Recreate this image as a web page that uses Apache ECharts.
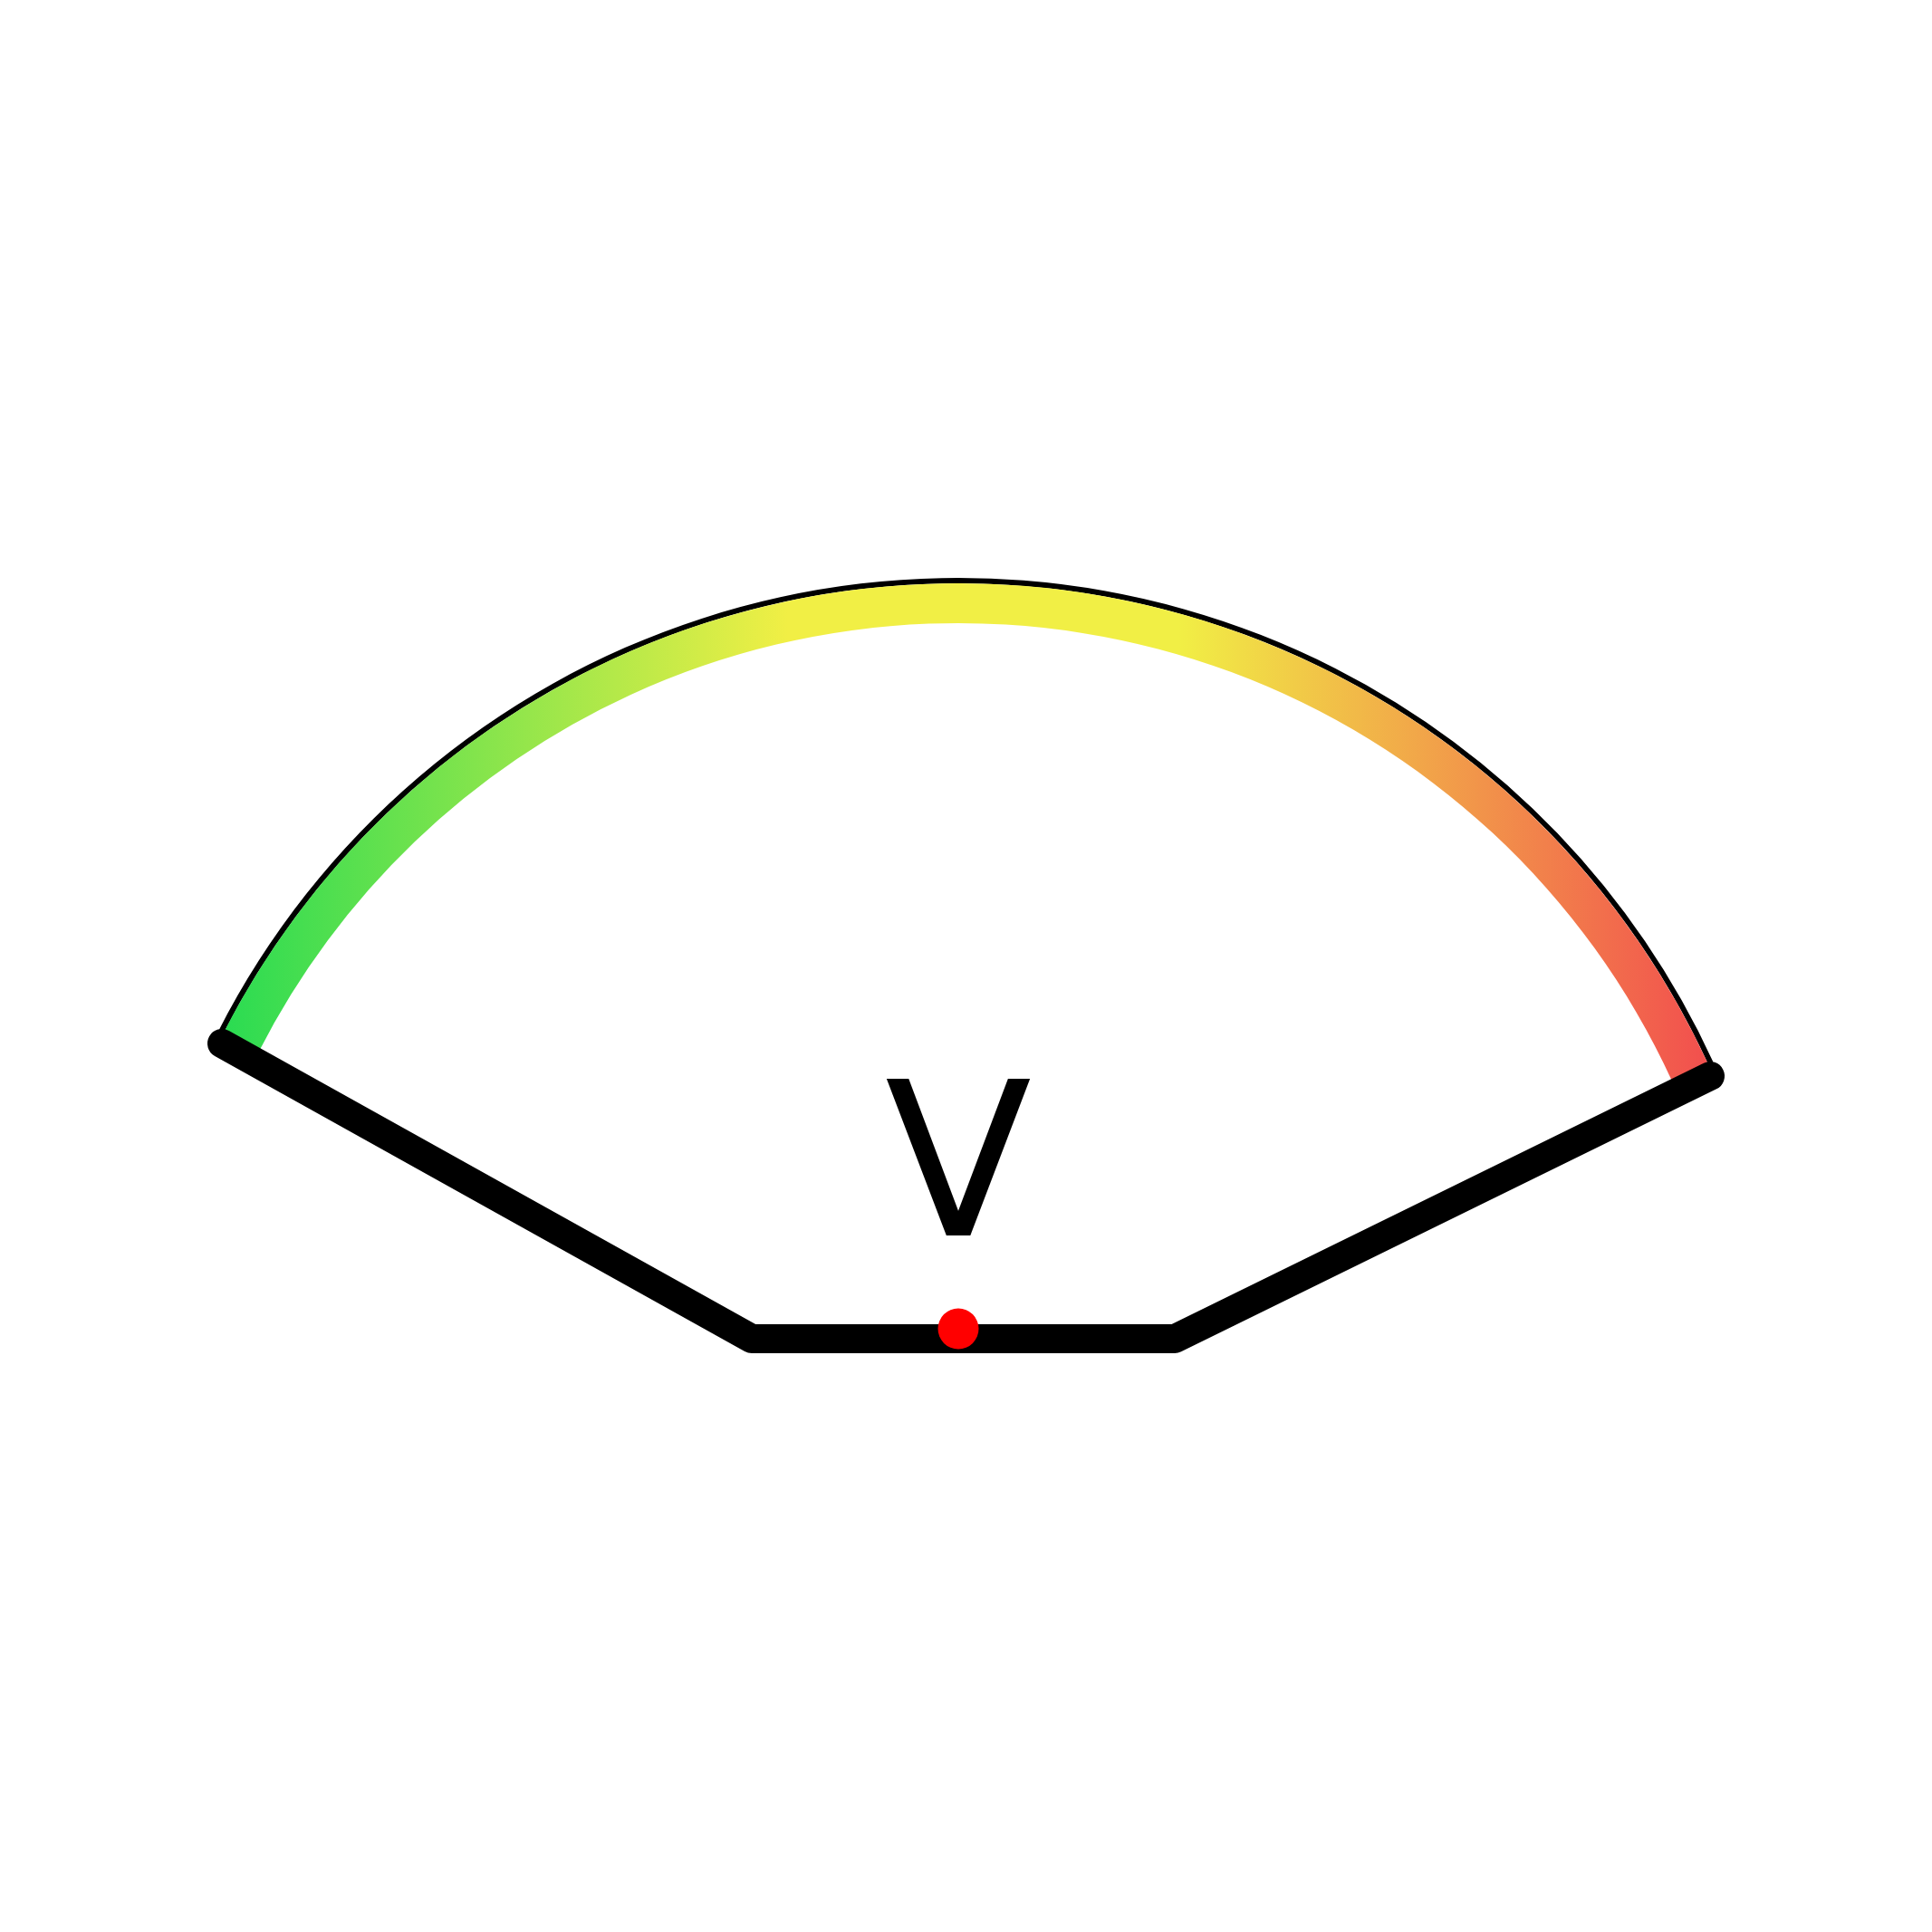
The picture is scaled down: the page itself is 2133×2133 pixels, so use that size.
<!DOCTYPE html>
<html>
<head>
<meta charset="utf-8">
<script src="https://cdn.jsdelivr.net/npm/echarts@6/dist/echarts.min.js"></script>
<style>html,body{margin:0;padding:0;background:#fff}#c{width:2133px;height:2133px}</style>
</head>
<body>
<div id="c"></div>
<script>
// ---- data ----
const gaugeName = 'V';
const gaugeValue = [0];
const gaugeStartAngle = 153;
const gaugeEndAngle = 24.65;
// base outline (x, y) in the plot's value units
const baseX = [245, 830, 1297, 1888];
const baseY = [1152, 1478, 1478, 1188];
// gradient colours of the arc
const arcStops = [0, 0.38, 0.64, 1];
const arcColors = ['#27db52', '#f1ef45', '#f1ef45', '#f24b4e'];

const chart = echarts.init(document.getElementById('c'));
const grad = new echarts.graphic.LinearGradient(238, 0, 1900, 0,
  arcStops.map((s, i) => ({offset: s, color: arcColors[i]})), true);

const hidden = {
  pointer: {show: false}, axisTick: {show: false}, splitLine: {show: false},
  axisLabel: {show: false}, detail: {show: false}
};
const C = [1058, 1555];

chart.setOption({
  animation: false,
  backgroundColor: '#fff',
  grid: {left: 0, right: 0, top: 0, bottom: 0},
  xAxis: {type: 'value', min: 0, max: 2133, show: false},
  yAxis: {type: 'value', min: 0, max: 2133, inverse: true, show: false},
  series: [
    Object.assign({
      type: 'gauge', z: 1, center: C, radius: 917,
      startAngle: gaugeStartAngle, endAngle: gaugeEndAngle,
      axisLine: {lineStyle: {width: 6, color: [[1, '#000']]}},
      title: {show: false}, anchor: {show: false},
      data: [{value: gaugeValue[0], name: ''}]
    }, hidden),
    Object.assign({
      type: 'gauge', z: 2, center: C, radius: 911,
      startAngle: gaugeStartAngle, endAngle: gaugeEndAngle,
      axisLine: {lineStyle: {width: 44, color: [[1, grad]]}},
      title: {show: false}, anchor: {show: false},
      data: [{value: gaugeValue[0], name: ''}]
    }, hidden),
    {
      type: 'line', z: 3, symbol: 'none',
      lineStyle: {color: '#000', width: 32, cap: 'round', join: 'round'},
      data: baseX.map((x, i) => [x, baseY[i]])
    },
    Object.assign({
      type: 'gauge', z: 10, center: C, radius: 911,
      startAngle: gaugeStartAngle, endAngle: gaugeEndAngle,
      axisLine: {show: false},
      anchor: {show: true, showAbove: true, size: 45, offsetCenter: [0, -88],
        itemStyle: {color: '#ff0000', borderWidth: 0}},
      title: {show: true, offsetCenter: [0, -253], fontSize: 237, color: '#000',
        fontFamily: 'DejaVu Sans'},
      data: [{value: gaugeValue[0], name: gaugeName}]
    }, hidden)
  ]
});
</script>
</body>
</html>
